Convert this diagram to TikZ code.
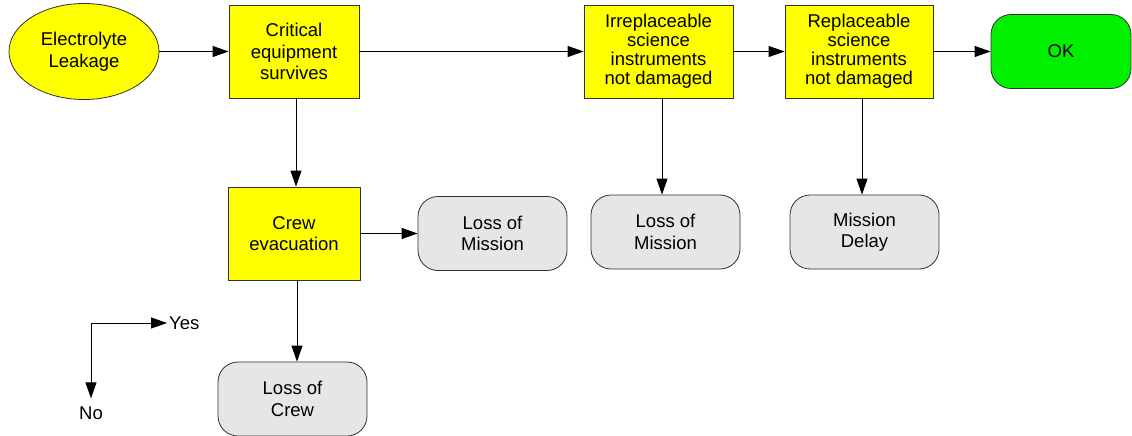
\documentclass[tikz,border=0pt]{standalone}
\usepackage{fontspec}
\setmainfont{Liberation Sans}
\usetikzlibrary{shapes.geometric,arrows.meta}
\definecolor{ylw}{HTML}{FFFF00}
\definecolor{grn}{HTML}{00F000}
\definecolor{gry}{HTML}{E6E6E6}
\definecolor{edge}{HTML}{303030}
\begin{document}
\begin{tikzpicture}[x=1pt,y=-1pt,
  font=\fontsize{18.5}{21.5}\selectfont,
  base/.style={draw=edge,line width=0.8pt,inner sep=0pt,align=center},
  ybox/.style={base,fill=ylw,minimum height=93pt},
  tight/.style={font=\fontsize{18.5}{19}\selectfont},
  gbox/.style={base,fill=gry,rounded corners=20pt,minimum width=149pt,minimum height=74pt},
  okbox/.style={base,fill=grn,rounded corners=20pt,minimum width=140pt,minimum height=74pt},
  oval/.style={base,ellipse,fill=ylw,minimum width=150pt,minimum height=96pt},
  arr/.style={draw=black,line width=0.8pt,-{Triangle[length=16pt,width=11pt]}},
  lbl/.style={inner sep=3pt}
]
\useasboundingbox (0,0) rectangle (1132,436);
% nodes
\node[oval] (leak) at (84,51.5) {Electrolyte\\Leakage};
\node[ybox,minimum width=130pt] (crit) at (294,51.5) {Critical\\equipment\\survives};
\node[ybox,tight,minimum width=149pt] (irr) at (658.5,51.5) {Irreplaceable\\science\\instruments\\not damaged};
\node[ybox,tight,minimum width=148pt] (rep) at (859,51.5) {Replaceable\\science\\instruments\\not damaged};
\node[okbox] (ok) at (1061,51.5) {OK};
\node[ybox,minimum width=132pt] (crew) at (294,233.5) {Crew\\evacuation};
\node[gbox] (lom1) at (492.5,233.5) {Loss of\\Mission};
\node[gbox] (lom2) at (665.5,232) {Loss of\\Mission};
\node[gbox] (delay) at (864.5,232) {Mission\\Delay};
\node[gbox] (locrew) at (292.5,399) {Loss of\\Crew};
% alignment coordinates for vertical connectors
\coordinate (v1) at (296,0);
\coordinate (v2) at (662,0);
\coordinate (v3) at (862,0);
\coordinate (v4) at (297,0);
% connectors
\draw[arr] (leak.east) -- (crit.west);
\draw[arr] (crit.east) -- (irr.west);
\draw[arr] (irr.east) -- (rep.west);
\draw[arr] (rep.east) -- (ok.west);
\draw[arr] (crit.south -| v1) -- (crew.north -| v1);
\draw[arr] (irr.south -| v2) -- (lom2.north -| v2);
\draw[arr] (rep.south -| v3) -- (delay.north -| v3);
\draw[arr] (crew.east) -- (lom1.west);
\draw[arr] (crew.south -| v4) -- (locrew.north -| v4);
% legend
\coordinate (lc) at (91,323);
\node[lbl,anchor=west,inner sep=2pt] (yes) at (167,323) {Yes};
\node[inner sep=8pt] (no) at (91,413) {No};
\draw[arr] (lc) -- (yes.west);
\draw[arr] (lc) -- (no.north);
\end{tikzpicture}
\end{document}
